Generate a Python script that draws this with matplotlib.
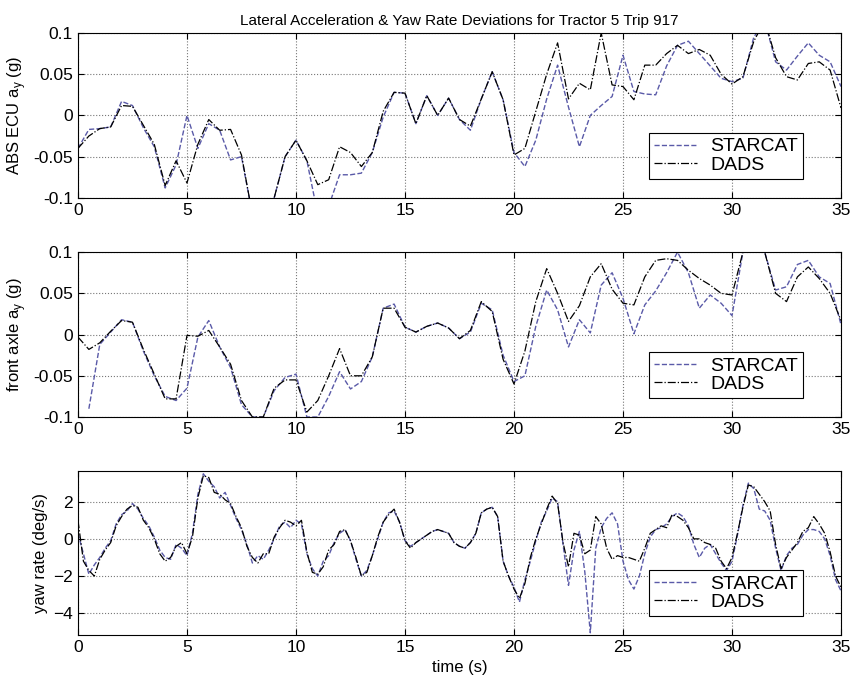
import numpy as np
import matplotlib
matplotlib.use("Agg")
import matplotlib.pyplot as plt

plt.rcParams['font.family'] = ['Liberation Sans', 'DejaVu Sans']

# ---- data ----
# accel traces sampled every 0.5 s
t_acc = np.arange(0, 35.01, 0.5)

abs_starcat = [-0.040, -0.017, -0.016, -0.014, 0.017, 0.012, -0.015, -0.038, -0.088, -0.060,
               0.000, -0.040, -0.010, -0.018, -0.054, -0.050, -0.120, -0.140, -0.100, -0.050,
               -0.030, -0.055, -0.120, -0.110, -0.072, -0.072, -0.070, -0.045, -0.002, 0.028,
               0.027, -0.010, 0.024, 0.000, 0.021, -0.005, -0.018, 0.020, 0.053, 0.019,
               -0.045, -0.062, -0.030, 0.020, 0.061, 0.010, -0.038, 0.000, 0.012, 0.023,
               0.073, 0.029, 0.026, 0.025, 0.060, 0.085, 0.090, 0.075, 0.060, 0.045,
               0.041, 0.045, 0.095, 0.115, 0.065, 0.055, 0.072, 0.088, 0.073, 0.065,
               0.035]
abs_dads = [-0.040, -0.025, -0.016, -0.014, 0.012, 0.011, -0.012, -0.035, -0.085, -0.055,
            -0.082, -0.035, -0.005, -0.018, -0.017, -0.048, -0.120, -0.140, -0.100, -0.050,
            -0.030, -0.055, -0.084, -0.078, -0.038, -0.045, -0.062, -0.045, 0.005, 0.028,
            0.027, -0.010, 0.024, 0.000, 0.021, -0.005, -0.013, 0.020, 0.053, 0.019,
            -0.048, -0.040, 0.005, 0.050, 0.088, 0.020, 0.039, 0.031, 0.100, 0.037,
            0.035, 0.019, 0.061, 0.061, 0.075, 0.085, 0.075, 0.080, 0.073, 0.050,
            0.038, 0.047, 0.090, 0.115, 0.070, 0.047, 0.043, 0.063, 0.065, 0.055,
            0.009]

front_starcat = [np.nan, -0.090, -0.012, 0.003, 0.018, 0.015, -0.020, -0.050, -0.075, -0.080,
                 -0.065, -0.003, 0.017, -0.015, -0.040, -0.085, -0.100, -0.100, -0.068, -0.052,
                 -0.048, -0.100, -0.100, -0.075, -0.045, -0.066, -0.057, -0.027, 0.032, 0.037,
                 0.009, 0.003, 0.010, 0.014, 0.008, -0.005, 0.003, 0.038, 0.030, -0.025,
                 -0.057, -0.050, 0.010, 0.054, 0.030, -0.015, 0.018, 0.002, 0.060, 0.075,
                 0.044, 0.001, 0.036, 0.053, 0.075, 0.100, 0.075, 0.032, 0.048, 0.038,
                 0.023, 0.100, 0.110, 0.100, 0.054, 0.058, 0.085, 0.090, 0.070, 0.062,
                 0.012]
front_dads = [-0.003, -0.018, -0.010, 0.004, 0.017, 0.015, -0.018, -0.048, -0.078, -0.078,
              -0.001, -0.002, 0.005, -0.015, -0.036, -0.080, -0.100, -0.100, -0.065, -0.055,
              -0.055, -0.094, -0.080, -0.050, -0.017, -0.050, -0.050, -0.027, 0.032, 0.032,
              0.009, 0.003, 0.010, 0.014, 0.008, -0.005, 0.005, 0.040, 0.028, -0.030,
              -0.060, -0.020, 0.040, 0.080, 0.050, 0.016, 0.035, 0.070, 0.086, 0.055,
              0.038, 0.036, 0.070, 0.090, 0.092, 0.090, 0.078, 0.068, 0.060, 0.050,
              0.048, 0.100, 0.110, 0.100, 0.050, 0.040, 0.070, 0.082, 0.068, 0.050,
              0.017]

# yaw rate sampled every 0.25 s
t_yaw = np.arange(0, 35.01, 0.25)

yaw_starcat = [0.3, -0.8, -1.9, -1.4, -1.0, -0.5, -0.1, 0.8, 1.3, 1.5,
               1.9, 1.6, 1.1, 0.7, 0.1, -0.6, -1.0, -1.1, -0.3, -0.5,
               -0.9, 0.3, 2.4, 3.5, 3.1, 2.8, 2.2, 2.5, 1.8, 1.1,
               0.5, -0.3, -1.3, -0.9, -1.1, -0.6, 0.0, 0.7, 0.9, 0.6,
               1.0, 0.8, -0.8, -1.6, -2.0, -1.2, -0.9, -0.2, 0.3, 0.5,
               -0.1, -1.1, -2.0, -1.7, -0.9, 0.0, 0.9, 1.4, 1.5, 0.9,
               -0.1, -0.4, -0.2, 0.0, 0.2, 0.4, 0.5, 0.4, 0.3, -0.2,
               -0.4, -0.5, -0.2, 0.3, 1.4, 1.6, 1.7, 1.2, -1.2, -2.0,
               -2.6, -3.4, -2.2, -1.2, -0.1, 0.9, 1.5, 2.2, 2.0, -0.3,
               -2.5, -0.6, 0.4, -1.8, -5.05, -0.5, 0.6, 1.1, 1.4, 0.8,
               -1.2, -2.2, -2.7, -2.0, -0.8, 0.1, 0.5, 0.6, 0.8, 1.2,
               1.4, 1.2, 0.7, -0.3, -1.0, -0.5, -0.3, -0.8, -1.3, -1.7,
               -1.2, 0.2, 1.8, 3.0, 2.7, 1.6, 1.5, 1.0, -0.5, -1.7,
               -0.9, -0.5, -0.3, 0.2, 0.5, 0.5, 0.4, 0.0, -0.9, -2.2,
               -2.8]
yaw_dads = [1.0, -1.2, -1.7, -2.0, -1.1, -0.6, -0.2, 0.7, 1.2, 1.6,
            1.8, 1.7, 1.0, 0.6, 0.0, -0.8, -1.2, -1.0, -0.4, -0.2,
            -0.8, 0.1, 2.2, 3.4, 3.3, 2.5, 2.4, 2.1, 1.9, 1.2,
            0.6, -0.4, -1.0, -1.3, -0.8, -0.8, 0.1, 0.6, 1.0, 0.9,
            0.7, 1.0, -0.7, -1.8, -1.9, -1.5, -0.6, -0.3, 0.4, 0.5,
            -0.1, -1.0, -2.0, -1.8, -0.9, 0.1, 0.9, 1.3, 1.6, 0.9,
            -0.1, -0.5, -0.2, 0.0, 0.2, 0.4, 0.5, 0.4, 0.3, -0.2,
            -0.4, -0.5, -0.2, 0.3, 1.4, 1.6, 1.7, 1.2, -1.2, -2.0,
            -2.7, -3.2, -2.4, -1.0, 0.0, 0.8, 1.6, 2.3, 1.9, -0.2,
            -1.5, 0.3, 0.2, -0.8, -0.6, 1.2, 0.8, -0.5, -1.1, -0.9,
            -1.0, -1.0, -1.1, -1.2, -0.5, 0.3, 0.5, 0.7, 0.6, 1.3,
            1.2, 1.0, 0.6, 0.0, 0.0, -0.2, -0.3, -0.5, -1.2, -1.6,
            -1.0, 0.3, 1.7, 2.9, 2.8, 2.4, 2.0, 1.5, -0.3, -1.6,
            -1.0, -0.6, -0.2, 0.4, 0.6, 1.2, 0.8, 0.3, -0.7, -2.0,
            -2.6]

# ---- plotting ----
starcat_color = '#5a5aa8'
fig = plt.figure(figsize=(8.54, 6.87), dpi=100)

panels = [
    (0.0913, 0.712, 0.8935, 0.240),
    (0.0913, 0.393, 0.8935, 0.240),
    (0.0913, 0.0757, 0.8935, 0.2387),
]


def style_axes(ax):
    ax.set_xlim(0, 35)
    ax.set_xticks(range(0, 36, 5))
    ax.grid(True, linestyle=':', color='#777777', linewidth=0.8)
    ax.tick_params(direction='in', top=True, right=True, labelsize=12.5, length=4)
    for s in ax.spines.values():
        s.set_linewidth(0.8)
    leg = ax.legend(loc='lower right', bbox_to_anchor=(0.95, 0.115), fontsize=14,
                    fancybox=False, edgecolor='black', framealpha=1, borderaxespad=0,
                    handlelength=2.2, borderpad=0.25, labelspacing=0.05, handletextpad=0.7)
    leg.get_frame().set_linewidth(0.8)


ax1 = fig.add_axes(panels[0])
ax1.plot(t_acc, abs_starcat, '--', color=starcat_color, lw=1.0, label='STARCAT')
ax1.plot(t_acc, abs_dads, '-.', color='black', lw=0.9, label='DADS')
ax1.set_ylim(-0.1, 0.1)
ax1.set_yticks([-0.1, -0.05, 0, 0.05, 0.1])
ax1.set_yticklabels(['-0.1', '-0.05', '0', '0.05', '0.1'])
ax1.set_ylabel('ABS ECU a$_\\mathregular{y}$ (g)', fontsize=12)
ax1.set_title('Lateral Acceleration & Yaw Rate Deviations for Tractor 5 Trip 917', fontsize=11)
style_axes(ax1)

ax2 = fig.add_axes(panels[1])
ax2.plot(t_acc, front_starcat, '--', color=starcat_color, lw=1.0, label='STARCAT')
ax2.plot(t_acc, front_dads, '-.', color='black', lw=0.9, label='DADS')
ax2.set_ylim(-0.1, 0.1)
ax2.set_yticks([-0.1, -0.05, 0, 0.05, 0.1])
ax2.set_yticklabels(['-0.1', '-0.05', '0', '0.05', '0.1'])
ax2.set_ylabel('front axle a$_\\mathregular{y}$ (g)', fontsize=12)
style_axes(ax2)

ax3 = fig.add_axes(panels[2])
ax3.plot(t_yaw, yaw_starcat, '--', color=starcat_color, lw=1.0, label='STARCAT')
ax3.plot(t_yaw, yaw_dads, '-.', color='black', lw=0.9, label='DADS')
ax3.set_ylim(-5.17, 3.65)
ax3.set_yticks([-4, -2, 0, 2])
ax3.set_ylabel('yaw rate (deg/s)', fontsize=12)
ax3.set_xlabel('time (s)', fontsize=12)
style_axes(ax3)

fig.savefig('out.png', dpi=100)
